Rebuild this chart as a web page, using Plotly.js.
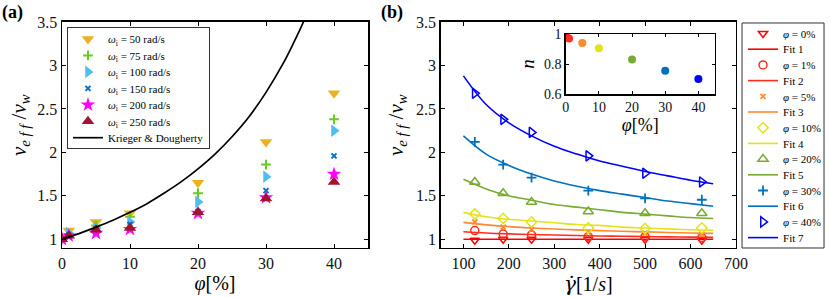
<!DOCTYPE html>
<html>
<head>
<meta charset="utf-8">
<script src="https://cdn.plot.ly/plotly-3.0.1.min.js"></script>
<style>html,body{margin:0;padding:0;background:#fff;}#chart{width:830px;height:297px;}</style>
</head>
<body>
<div id="chart"></div>
<script>
// ---------- Panel (a) data ----------
const phiA = [0, 1, 5, 10, 20, 30, 40];
const nu50 = [1.00, 1.10, 1.20, 1.30, 1.65, 2.12, 2.68];
const nu75 = [1.00, 1.06, 1.16, 1.26, 1.53, 1.86, 2.38];
const nu100 = [1.00, 1.07, 1.13, 1.20, 1.43, 1.72, 2.25];
const nu150 = [1.00, 1.05, 1.12, 1.17, 1.32, 1.56, 1.96];
const nu200 = [1.00, 1.04, 1.07, 1.115, 1.30, 1.48, 1.75];
const nu250 = [1.00, 1.04, 1.11, 1.13, 1.31, 1.47, 1.66];
const kdPhi = [0, 2.5, 5, 7.5, 10, 12.5, 15, 17.5, 20, 22.5, 25, 27.5, 30, 32.5, 34, 35.5, 36.5];
const kdNu = [1.00, 1.065, 1.14, 1.22, 1.31, 1.41, 1.53, 1.66, 1.81, 1.98, 2.18, 2.41, 2.69, 3.02, 3.25, 3.5, 3.7];
const omegaLabels = ['50', '75', '100', '150', '200', '250'];

// ---------- Panel (b) data ----------
const gammaDot = [125, 187.5, 250, 375, 500, 625];
const nuPhi0 = [0.99, 1.00, 1.00, 1.00, 1.00, 0.99];
const nuPhi1 = [1.10, 1.06, 1.05, 1.03, 1.03, 1.02];
const nuPhi5 = [1.20, 1.14, 1.11, 1.08, 1.07, 1.06];
const nuPhi10 = [1.29, 1.24, 1.20, 1.13, 1.125, 1.13];
const nuPhi20 = [1.66, 1.53, 1.43, 1.32, 1.30, 1.30];
const nuPhi30 = [2.12, 1.86, 1.71, 1.56, 1.47, 1.455];
const nuPhi40 = [2.68, 2.38, 2.23, 1.96, 1.76, 1.66];
const gammaFit = [100, 150, 200, 250, 300, 350, 400, 450, 500, 550, 600, 650];
const fit1 = [1.0, 1.0, 1.0, 1.0, 1.0, 1.0, 1.0, 1.0, 1.0, 1.0, 1.0, 1.0];
const fit2 = [1.087, 1.072, 1.062, 1.055, 1.049, 1.044, 1.038, 1.035, 1.032, 1.028, 1.025, 1.022];
const fit3 = [1.195, 1.166, 1.146, 1.13, 1.118, 1.109, 1.10, 1.092, 1.085, 1.079, 1.073, 1.068];
const fit4 = [1.31, 1.26, 1.23, 1.21, 1.19, 1.17, 1.16, 1.14, 1.13, 1.12, 1.11, 1.105];
const fit5 = [1.69, 1.58, 1.50, 1.45, 1.40, 1.37, 1.34, 1.31, 1.29, 1.27, 1.25, 1.24];
const fit6 = [2.19, 1.98, 1.85, 1.75, 1.67, 1.61, 1.56, 1.52, 1.48, 1.44, 1.41, 1.38];
const fit7 = [2.88, 2.55, 2.34, 2.19, 2.07, 1.98, 1.90, 1.84, 1.78, 1.73, 1.68, 1.64];
const phiLabels = ['0', '1', '5', '10', '20', '30', '40'];

// ---------- Inset data ----------
const phiN = [0, 1, 5, 10, 20, 30, 40];
const nIndex = [1.00, 0.97, 0.94, 0.905, 0.83, 0.755, 0.70];

// ---------- styles ----------
const FONT = 'Liberation Serif';
const aColors = ['#EDB120', '#66CC22', '#4DBEEE', '#0072BD', '#FF00FF', '#A2142F'];
const aSymbols = ['triangle-down', 'cross-thin', 'triangle-right', 'x-thin', 'star', 'triangle-up'];
const aSizes = [11, 7, 11, 5, 11, 11];
const bColors = ['#FF0000', '#FF2D1E', '#FF8A2E', '#E3E31A', '#77AC30', '#0072BD', '#0000FF'];
const bSymbols = ['triangle-down-open', 'circle-open', 'x-thin', 'diamond-open', 'triangle-up-open', 'cross-thin', 'triangle-right-open'];
const bSizes = [8, 8, 5, 8, 9, 7, 9];

const traces = [];
const aSeries = [nu50, nu75, nu100, nu150, nu200, nu250];
aSeries.forEach((ys, i) => {
  const thin = aSymbols[i].indexOf('thin') >= 0;
  traces.push({
    x: phiA, y: ys, type: 'scatter', mode: 'markers',
    name: '<i>ω</i><sub>i</sub> = ' + omegaLabels[i] + ' rad/s',
    xaxis: 'x', yaxis: 'y', legend: 'legend',
    marker: {symbol: aSymbols[i], size: aSizes[i], color: aColors[i],
             line: {width: thin ? 2 : 0, color: aColors[i]}}
  });
});
traces.push({
  x: kdPhi, y: kdNu, type: 'scatter', mode: 'lines', name: 'Krieger &amp; Dougherty',
  xaxis: 'x', yaxis: 'y', legend: 'legend', line: {color: '#000', width: 1.7, shape: 'spline'}
});

const bSeries = [nuPhi0, nuPhi1, nuPhi5, nuPhi10, nuPhi20, nuPhi30, nuPhi40];
const bFits = [fit1, fit2, fit3, fit4, fit5, fit6, fit7];
bSeries.forEach((ys, i) => {
  const thin = bSymbols[i].indexOf('thin') >= 0;
  traces.push({
    x: gammaDot, y: ys, type: 'scatter', mode: 'markers',
    name: '<i>φ</i> = ' + phiLabels[i] + '%',
    xaxis: 'x2', yaxis: 'y2', legend: 'legend2',
    marker: {symbol: bSymbols[i], size: bSizes[i], color: bColors[i],
             line: {width: thin ? 1.8 : 1.5, color: bColors[i]}}
  });
  traces.push({
    x: gammaFit, y: bFits[i], type: 'scatter', mode: 'lines',
    name: 'Fit ' + (i + 1),
    xaxis: 'x2', yaxis: 'y2', legend: 'legend2',
    line: {color: bColors[i], width: 1.6, shape: 'spline'}
  });
});
traces.push({
  x: phiN, y: nIndex, type: 'scatter', mode: 'markers', showlegend: false,
  xaxis: 'x3', yaxis: 'y3',
  marker: {symbol: 'circle', size: 8, color: bColors}
});

const axBase = {
  showline: true, linecolor: '#000', linewidth: 1.5, mirror: 'ticks',
  ticks: 'inside', ticklen: 4, tickwidth: 1, tickcolor: '#000',
  showgrid: false, zeroline: false,
  tickfont: {family: FONT, size: 16, color: '#111'}
};
const yTitle = '<i>ν</i><sub><i>e f f</i></sub> /<i>ν</i><sub><i>w</i></sub>';

const layout = {
  width: 830, height: 297,
  margin: {l: 0, r: 0, t: 0, b: 0},
  paper_bgcolor: '#fff', plot_bgcolor: '#fff',
  font: {family: FONT, color: '#000'},
  xaxis: Object.assign({}, axBase, {domain: [0.0747, 0.4434], range: [0, 45], tickvals: [0, 10, 20, 30, 40],
    anchor: 'y', title: {text: '<i>φ</i>[%]', font: {family: FONT, size: 20}, standoff: 3}}),
  yaxis: Object.assign({}, axBase, {domain: [0.165, 0.926], range: [0.9, 3.5], dtick: 0.5, anchor: 'x'}),
  xaxis2: Object.assign({}, axBase, {domain: [0.531, 0.8866], range: [50, 700], dtick: 100,
    anchor: 'y2', title: {text: '<span style="font-family:DejaVu Serif"><i>γ̇</i></span>[1/<i>s</i>]', font: {family: FONT, size: 20}, standoff: 3}}),
  yaxis2: Object.assign({}, axBase, {domain: [0.165, 0.926], range: [0.9, 3.5], dtick: 0.5, anchor: 'x2'}),
  xaxis3: Object.assign({}, axBase, {domain: [0.6816, 0.8614], range: [0, 45], tickvals: [0, 10, 20, 30, 40],
    anchor: 'y3', ticklen: 3, tickfont: {family: FONT, size: 14, color: '#111'},
    title: {text: '<i>φ</i>[%]', font: {family: FONT, size: 18}, standoff: 2}}),
  yaxis3: Object.assign({}, axBase, {domain: [0.6835, 0.8855], range: [0.6, 1.0], tickvals: [0.6, 0.8, 1.0], ticktext: ['0.6', '0.8', '1'],
    anchor: 'x3', ticklen: 3, tickfont: {family: FONT, size: 14, color: '#111'},
    title: {text: '<i>n</i>', font: {family: FONT, size: 19}, standoff: 4}}),
  legend: {x: 0.0807, y: 0.909, xanchor: 'left', yanchor: 'top', bgcolor: '#fff',
    bordercolor: '#333', borderwidth: 1, font: {family: FONT, size: 11, color: '#000'}, tracegroupgap: 0},
  legend2: {x: 0.8952, y: 1.0, xanchor: 'left', yanchor: 'top', bgcolor: 'rgba(0,0,0,0)',
    bordercolor: 'rgba(0,0,0,0)', borderwidth: 0, font: {family: FONT, size: 11, color: '#000'}, tracegroupgap: 0},
  shapes: [
    {type: 'rect', xref: 'paper', yref: 'paper', x0: 0.894, x1: 0.9928, y0: 0.165, y1: 0.9226,
     line: {color: '#333', width: 1}, fillcolor: '#ffffff', layer: 'above'}
  ],
  annotations: [
    {text: '<b>(a)</b>', xref: 'paper', yref: 'paper', x: 0.0, y: 1.0, xanchor: 'left', yanchor: 'top',
     showarrow: false, font: {family: FONT, size: 18, color: '#000'}},
    {text: '<b>(b)</b>', xref: 'paper', yref: 'paper', x: 0.457, y: 1.0, xanchor: 'left', yanchor: 'top',
     showarrow: false, font: {family: FONT, size: 18, color: '#000'}},
    {text: yTitle, xref: 'paper', yref: 'paper', x: 20 / 830, y: 1 - 125 / 297, xanchor: 'center', yanchor: 'middle',
     textangle: -90, showarrow: false, font: {family: FONT, size: 21, color: '#000'}},
    {text: yTitle, xref: 'paper', yref: 'paper', x: 397 / 830, y: 1 - 125 / 297, xanchor: 'center', yanchor: 'middle',
     textangle: -90, showarrow: false, font: {family: FONT, size: 21, color: '#000'}}
  ],
  showlegend: true
};

// tighten legend row spacing to match the reference (Plotly enforces a 19px minimum row)
function compactLegend(cls, topY, firstCenter, step, boxH) {
  const lg = document.querySelector('g.' + cls);
  if (!lg) return;
  const m0 = /translate\(([^,\s]+)[,\s]+([^)]+)\)/.exec(lg.getAttribute('transform') || '');
  if (m0) lg.setAttribute('transform', 'translate(' + m0[1] + ',' + topY + ')');
  lg.querySelectorAll('g.traces').forEach((it, i) => {
    const m = /translate\(([^,\s]+)[,\s]+([^)]+)\)/.exec(it.getAttribute('transform') || '');
    if (m) it.setAttribute('transform', 'translate(' + m[1] + ',' + (firstCenter + i * step) + ')');
  });
  if (boxH) lg.querySelectorAll('rect.bg').forEach(bg => bg.setAttribute('height', boxH));
  lg.querySelectorAll('rect.scrollbar').forEach(r => r.setAttribute('display', 'none'));
}

Plotly.newPlot('chart', traces, layout, {displayModeBar: false, staticPlot: true}).then(() => {
  compactLegend('legend', 27, 12, 16.45, 121);
  compactLegend('legend2', 23, 10.5, 15.7, 0);
});
</script>
</body>
</html>
